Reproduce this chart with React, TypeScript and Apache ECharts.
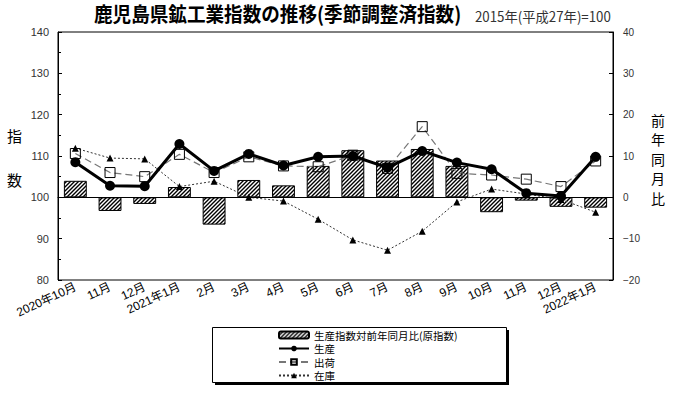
import React, { useEffect, useRef } from 'react';
import * as echarts from 'echarts';

const categories = ['2020年10月', '11月', '12月', '2021年1月', '2月', '3月', '4月', '5月', '6月', '7月', '8月', '9月', '10月', '11月', '12月', '2022年1月'];
const yoyProduction = [4.0, -3.3, -1.6, 2.5, -6.6, 4.2, 2.9, 7.6, 11.4, 8.9, 11.7, 7.6, -3.6, -0.8, -2.3, -2.5];
const production = [108.5, 102.8, 102.7, 112.9, 106.4, 110.5, 107.7, 109.8, 110.0, 107.2, 111.2, 108.4, 106.8, 101.0, 100.3, 109.8];
const shipments = [110.6, 106.0, 105.0, 110.4, 106.0, 109.8, 107.6, 107.4, 110.2, 107.0, 117.1, 105.8, 105.4, 104.4, 102.6, 108.8];
const inventory = [111.9, 109.5, 109.3, 102.6, 103.9, 100.0, 99.1, 94.7, 89.7, 87.2, 91.8, 98.9, 102.0, 100.8, 99.5, 96.4];

const seriesNames = ['生産指数対前年同月比(原指数)', '生産', '出荷', '在庫'];
const titleText = '鹿児島県鉱工業指数の推移(季節調整済指数)';
const baseText = '2015年(平成27年)=100';

const JP = "'Noto Sans CJK JP', sans-serif";
const NUM = "'Liberation Sans', 'Noto Sans CJK JP', sans-serif";

function makeHatch(): HTMLCanvasElement {
  const c = document.createElement('canvas');
  c.width = 4;
  c.height = 4;
  const g = c.getContext('2d')!;
  g.fillStyle = '#fff';
  g.fillRect(0, 0, 4, 4);
  g.strokeStyle = '#000';
  g.lineWidth = 1.4;
  g.beginPath();
  g.moveTo(-1, 5); g.lineTo(5, -1);
  g.moveTo(-1, 1); g.lineTo(1, -1);
  g.moveTo(3, 5); g.lineTo(5, 3);
  g.stroke();
  return c;
}

export default function App() {
  const ref = useRef<HTMLDivElement>(null);
  useEffect(() => {
    if (!ref.current) return;
    const chart = echarts.init(ref.current, undefined, { renderer: 'svg' });
    const hatch = { image: makeHatch(), repeat: 'repeat', imageWidth: 4, imageHeight: 4 } as any;
    chart.setOption({
      animation: false,
      backgroundColor: '#fff',
      grid: { left: 58, right: 87, top: 32, bottom: 114, show: true, borderColor: '#000', borderWidth: 1, backgroundColor: 'transparent' },
      graphic: [
        { type: 'text', left: 94, top: 4, z: 10, scaleX: 0.93, style: { text: titleText, font: `bold 20px ${JP}`, fill: '#000' } },
        { type: 'text', left: 475, top: 9, z: 10, scaleX: 0.95, style: { text: baseText, font: `14px ${JP}`, fill: '#333' } },
        { type: 'text', left: 7, top: 128, z: 10, style: { text: '指', font: `15px ${JP}`, fill: '#000' } },
        { type: 'text', left: 7, top: 172, z: 10, style: { text: '数', font: `15px ${JP}`, fill: '#000' } },
        { type: 'text', left: 651, top: 110, z: 10, style: { text: '前\n年\n同\n月\n比', font: `14px ${JP}`, lineHeight: 19.5, fill: '#000' } },
        { type: 'rect', left: 215, top: 330, z: 1, shape: { width: 294, height: 55 }, style: { fill: '#000' } },
        { type: 'rect', left: 212, top: 327, z: 2, shape: { width: 294, height: 55 }, style: { fill: '#fff', stroke: '#000', lineWidth: 1 } },
      ],
      legend: {
        orient: 'vertical', left: 278, top: 329, z: 5, itemWidth: 30, itemHeight: 7, itemGap: 1.5, padding: 0,
        data: seriesNames,
        textStyle: { fontSize: 10.5, lineHeight: 12, fontFamily: JP, color: '#000' },
      },
      xAxis: {
        type: 'category', data: categories,
        axisLine: { lineStyle: { color: '#000' } },
        axisTick: { show: false },
        axisLabel: { interval: 0, rotate: 25, fontSize: 12, fontFamily: NUM, color: '#000', margin: 6 },
      },
      yAxis: [
        {
          type: 'value', min: 80, max: 140, interval: 10, position: 'left',
          axisLine: { show: true, lineStyle: { color: '#000' } },
          axisTick: { show: true, inside: true, length: 4, lineStyle: { color: '#000' } },
          minorTick: { show: true, splitNumber: 2, length: 3, lineStyle: { color: '#000' } },
          splitLine: { show: false },
          axisLabel: { fontSize: 11, fontFamily: NUM, color: '#333', margin: 9 },
        },
        {
          type: 'value', min: -20, max: 40, interval: 10, position: 'right',
          axisLine: { show: true, lineStyle: { color: '#000' } },
          axisTick: { show: true, inside: true, length: 4, lineStyle: { color: '#000' } },
          splitLine: { show: false },
          axisLabel: { fontSize: 10, fontFamily: NUM, color: '#333', margin: 10, formatter: (v: number) => String(v).replace('-', '−') },
        },
      ],
      series: [
        {
          name: seriesNames[0], type: 'bar', yAxisIndex: 1, data: yoyProduction, barWidth: '66%',
          itemStyle: { color: hatch, borderColor: '#000', borderWidth: 1 },
          markLine: { silent: true, symbol: 'none', label: { show: false }, lineStyle: { color: '#000', type: 'solid', width: 1 }, data: [{ yAxis: 0 }] },
          z: 2,
        },
        {
          name: seriesNames[3], type: 'line', yAxisIndex: 0, data: inventory,
          symbol: 'triangle', symbolSize: 7,
          lineStyle: { color: '#333', width: 1, type: [2, 2] },
          itemStyle: { color: '#000' },
          z: 3,
        },
        {
          name: seriesNames[2], type: 'line', yAxisIndex: 0, data: shipments,
          symbol: 'rect', symbolSize: 10,
          lineStyle: { color: '#777', width: 1.2, type: [7, 4] },
          itemStyle: { color: 'rgba(255,255,255,0)', borderColor: '#000', borderWidth: 1 },
          z: 4,
        },
        {
          name: seriesNames[1], type: 'line', yAxisIndex: 0, data: production,
          symbol: 'circle', symbolSize: 10,
          lineStyle: { color: '#000', width: 3 },
          itemStyle: { color: '#000' },
          z: 5,
        },
      ],
    });
    return () => chart.dispose();
  }, []);
  return <div ref={ref} style={{ width: 700, height: 394, position: 'absolute', left: 0, top: 0 }} />;
}
